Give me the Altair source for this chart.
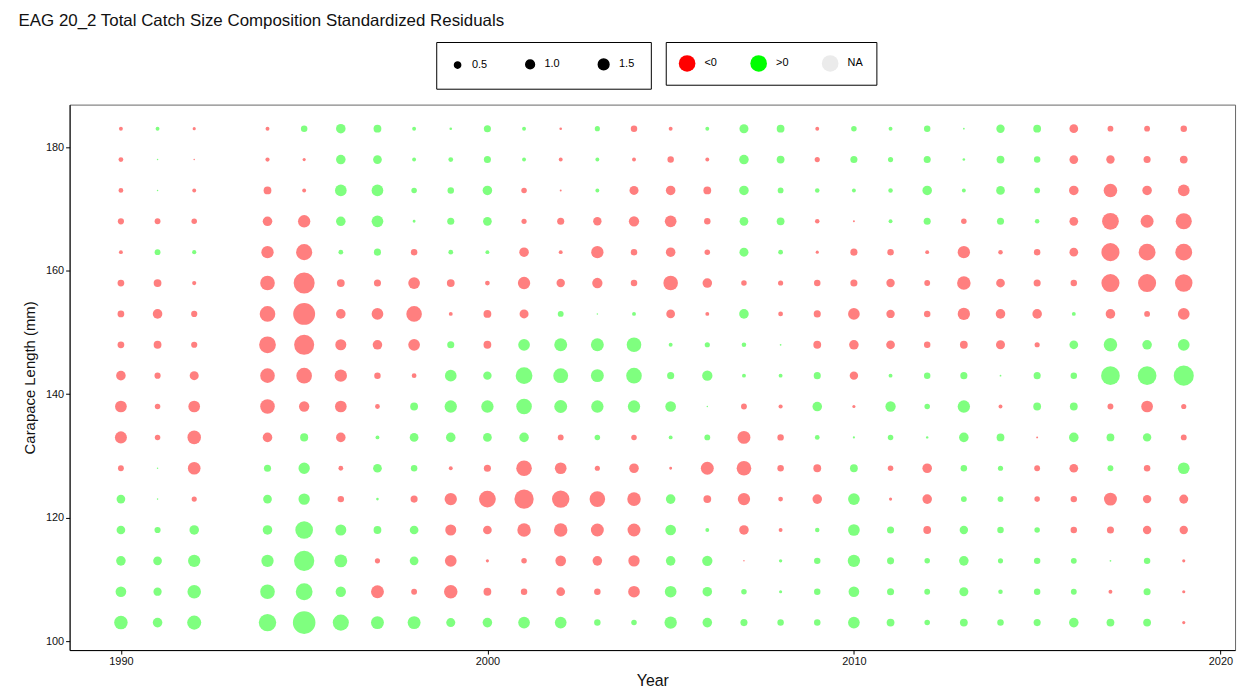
import altair as alt
import pandas as pd

YEARS = [1990, 1991, 1992, 1994, 1995, 1996, 1997, 1998, 1999, 2000, 2001, 2002, 2003, 2004,
         2005, 2006, 2007, 2008, 2009, 2010, 2011, 2012, 2013, 2014, 2015, 2016, 2017, 2018, 2019]
LENGTHS = [183, 178, 173, 168, 163, 158, 153, 148, 143, 138, 133, 128, 123, 118, 113, 108, 103]

# standardized residuals per year, top (183 mm) to bottom (103 mm)
r1990 = [-0.2, -0.3, -0.3, -0.5, -0.2, -0.6, -0.6, -0.6, -1.2, -1.8, -1.9, -0.45, 1.0, 1.0, 1.2, 1.5, 2.4]
r1991 = [0.2, 0.03, 0.03, -0.45, 0.45, -0.8, -1.2, -0.8, -0.5, -0.4, -0.4, 0.03, 0.03, 0.5, 1.0, 0.9, 1.2]
r1992 = [-0.13, -0.03, -0.2, -0.4, 0.23, -0.23, -0.5, -0.5, -1.07, -1.8, -2.4, -2.1, -0.35, 1.2, 2.0, 2.4, 2.6]
r1994 = [-0.2, -0.23, -0.8, -1.2, -2.0, -2.8, -3.2, -3.7, -2.8, -2.8, -1.2, 0.66, 1.0, 1.2, 2.0, 2.8, 4.0]
r1995 = [0.55, -0.13, -0.2, -2.0, -3.4, -5.8, -6.3, -5.3, -3.2, -1.4, 0.85, 1.7, 1.7, 4.1, 5.4, 3.7, 6.7]
r1996 = [1.2, 1.2, 1.8, 1.2, 0.3, -0.8, -1.2, -1.6, -2.0, -1.8, -1.2, -0.3, -0.55, 1.6, 2.2, 1.4, 3.4]
r1997 = [0.8, 1.0, 1.8, 1.8, 0.66, -0.66, -1.8, -1.2, -0.55, -0.3, 0.2, 1.0, 0.09, 0.8, -0.35, -2.2, 2.2]
r1998 = [0.2, 0.2, 0.4, 0.11, -0.55, -1.8, -3.2, -1.8, -0.3, 0.8, 1.0, 0.55, -0.66, 1.0, 1.0, -0.45, 2.2]
r1999 = [0.09, 0.3, 0.55, 0.66, 0.3, -0.8, -0.2, 0.66, 1.8, 2.0, 1.2, -0.2, -2.0, -1.6, -1.8, -2.4, 1.07]
r2000 = [0.66, 0.66, 1.2, 1.0, 0.2, -0.3, -0.8, -0.8, 0.93, 2.0, 1.0, -0.66, -3.7, -1.0, -0.13, -0.8, 1.2]
r2001 = [0.2, 0.2, -0.4, -0.35, -1.2, -2.0, -1.07, 1.8, 3.7, 3.2, 1.2, -3.2, -4.9, -2.4, -0.4, -0.55, 1.8]
r2002 = [-0.09, -0.2, -0.05, -0.66, -0.2, -0.93, 0.45, 2.2, 2.9, 2.2, -0.45, -1.8, -4.0, -2.4, -1.5, -1.0, 1.8]
r2003 = [0.35, 0.2, 0.2, -0.93, -2.0, -1.4, 0.03, 2.2, 2.2, 2.0, 0.4, -0.35, -3.2, -2.2, -1.2, -0.55, 0.55]
r2004 = [-0.55, -0.2, -1.07, -1.4, -0.55, -0.55, 0.2, 2.8, 3.2, 2.0, -0.4, -1.2, -2.4, -2.2, -1.7, -1.8, 0.4]
r2005 = [-0.2, -0.55, -1.2, -1.8, -1.2, -2.8, -1.0, 0.2, 0.66, 1.5, 0.2, -0.11, 1.2, 1.5, 1.2, 1.8, 2.0]
r2006 = [0.2, -0.2, -0.8, -0.55, -0.4, -1.2, -0.2, 0.35, 1.4, 0.03, 0.45, -2.2, -0.8, 0.2, 1.4, 1.2, 1.2]
r2007 = [1.07, 1.2, 1.2, 1.0, 1.07, -0.4, 1.2, 0.27, 0.2, -0.45, -2.2, -2.8, -2.0, -1.2, -0.03, 0.4, 0.66]
r2008 = [0.8, 0.8, 0.45, 0.8, 0.3, -0.35, -0.3, 0.04, 0.2, -0.23, -0.55, -0.55, -0.3, -0.2, 0.15, 0.13, 0.55]
r2009 = [-0.2, -0.35, 0.27, -0.27, -0.13, -0.55, -0.66, -0.8, 0.66, 1.2, 0.3, -0.8, -1.2, 0.27, 0.55, 0.55, 0.55]
r2010 = [0.4, 0.66, 0.2, -0.05, -0.66, -0.66, -1.8, -1.2, -0.93, -0.13, 0.06, 0.8, 1.8, 1.8, 2.0, 1.5, 1.8]
r2011 = [0.2, 0.35, 0.27, 0.2, -0.55, -0.93, -0.93, -1.0, 0.2, 1.4, 0.4, -0.4, -0.13, 0.66, 0.66, 0.66, 0.8]
r2012 = [0.55, 0.66, 1.2, 0.66, -0.2, -0.45, -0.55, -0.55, 0.55, 0.4, 0.08, -1.2, -1.2, -0.8, 0.4, 0.45, 0.4]
r2013 = [0.04, 0.09, 0.2, -0.4, -2.0, -2.4, -2.0, -0.8, 0.66, 2.0, 1.2, 0.55, 0.45, 0.93, 1.2, 1.07, 0.8]
r2014 = [0.93, 0.8, 1.0, 0.66, -0.27, -1.0, -1.2, -1.07, 0.04, -0.2, 0.8, 0.35, 0.45, 0.55, 0.35, 0.27, 0.55]
r2015 = [0.8, 0.55, 0.45, 0.27, -0.55, -0.66, -1.2, -0.35, 0.66, 0.8, -0.05, -0.45, -0.4, 0.4, 0.55, 0.55, 0.66]
r2016 = [-1.0, -1.0, -1.2, -1.0, -1.0, -0.55, 0.2, 1.0, 0.55, 0.8, 1.2, -1.0, -0.55, -0.55, 0.45, 0.45, 1.2]
r2017 = [-0.45, -0.93, -2.4, -3.7, -4.3, -4.3, -1.2, 2.4, 4.6, -0.45, 0.8, 0.45, -2.2, -0.66, 0.04, -0.2, 0.8]
r2018 = [-0.45, -0.66, -1.2, -2.2, -3.7, -4.3, -0.45, 1.2, 4.6, -1.8, 0.93, -0.55, -0.93, -0.93, 0.55, 0.66, 0.8]
r2019 = [-0.55, -0.8, -1.8, -3.4, -3.7, -4.0, -1.8, 1.8, 5.3, -0.35, -0.45, 1.8, -1.07, -0.93, -0.13, -0.13, -0.13]

RESIDUALS = [r1990, r1991, r1992, r1994, r1995, r1996, r1997, r1998, r1999, r2000, r2001, r2002,
             r2003, r2004, r2005, r2006, r2007, r2008, r2009, r2010, r2011, r2012, r2013, r2014,
             r2015, r2016, r2017, r2018, r2019]

SIGN_LABELS = ["<0", ">0", "NA"]
SIZE_LEGEND = [0.5, 1.0, 1.5]

rows = []
for yr, vals in zip(YEARS, RESIDUALS):
    for L, v in zip(LENGTHS, vals):
        rows.append({"Year": yr, "Length": L, "Resid": v, "Abs": abs(v),
                     "Sign": "<0" if v < 0 else ">0"})
df = pd.DataFrame(rows)

FONT = "Liberation Sans"

chart = alt.Chart(df).mark_circle(opacity=0.5).encode(
    x=alt.X("Year:Q",
            scale=alt.Scale(domain=[1988.6, 2020.4], nice=False, zero=False),
            axis=alt.Axis(values=[1990, 2000, 2010, 2020], format="d", title="Year",
                          grid=False, tickSize=4, labelFontSize=11, titleFontSize=16,
                          titleFontWeight="normal", labelColor="#111", titleColor="#111",
                          domainColor="#000", tickColor="#000", titlePadding=6)),
    y=alt.Y("Length:Q",
            scale=alt.Scale(domain=[98.55, 186.9], nice=False, zero=False),
            axis=alt.Axis(values=[100, 120, 140, 160, 180], title="Carapace Length (mm)",
                          grid=False, tickSize=4, labelFontSize=11, titleFontSize=15,
                          titleFontWeight="normal", labelColor="#111", titleColor="#111",
                          domainColor="#000", tickColor="#000", titlePadding=8)),
    size=alt.Size("Abs:Q",
                  scale=alt.Scale(type="linear", domain=[0, 7], range=[0, 540], zero=True),
                  legend=alt.Legend(title=None, values=SIZE_LEGEND, format=".1f",
                                    orient="none", legendX=369, legendY=-63,
                                    direction="horizontal", strokeColor="#000",
                                    padding=16, columnPadding=35, labelFontSize=11,
                                    labelOffset=9, symbolFillColor="#000",
                                    symbolStrokeColor="#000", symbolOpacity=1,
                                    symbolType="circle", labelFont=FONT)),
    color=alt.Color("Sign:N",
                    scale=alt.Scale(domain=SIGN_LABELS, range=["#FF0000", "#00FF00", "#EBEBEB"]),
                    legend=alt.Legend(title=None, orient="none", legendX=600, legendY=-63,
                                      direction="horizontal", strokeColor="#000",
                                      padding=13, columnPadding=33, labelFontSize=11,
                                      labelOffset=9, symbolType="circle", symbolSize=280,
                                      symbolOpacity=1, symbolStrokeWidth=0, labelFont=FONT)),
).properties(
    width=1173,
    height=549,
    autosize="none",
    padding={"left": 62, "top": 95, "right": 9, "bottom": 46},
    title=alt.TitleParams("EAG 20_2 Total Catch Size Composition Standardized Residuals",
                          anchor="start", fontSize=17, fontWeight="normal", font=FONT,
                          color="#111", dx=-4, offset=12),
).configure_view(
    stroke="#666", strokeWidth=1
).configure_axis(
    labelFont=FONT, titleFont=FONT
)

chart.save("out.html", embed_options={"renderer": "svg", "actions": False})
